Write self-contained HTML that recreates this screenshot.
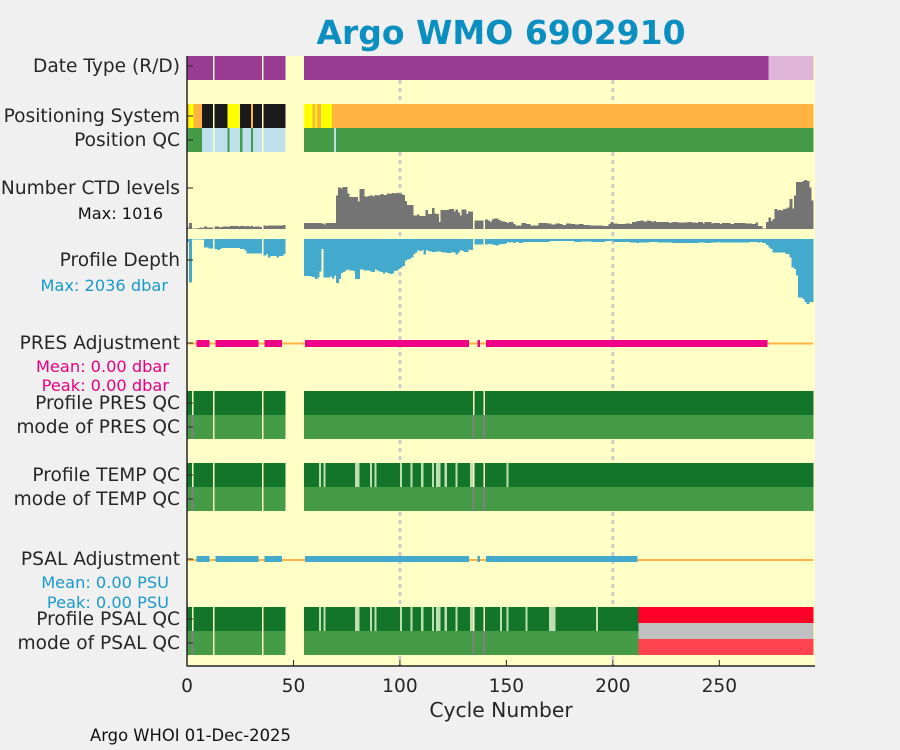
<!DOCTYPE html>
<html><head><meta charset="utf-8"><style>
body{margin:0;background:#f0f0f0;}
svg{display:block;font-family:"DejaVu Sans","Liberation Sans",sans-serif;}
#marks rect{shape-rendering:crispEdges;}
</style></head><body>
<svg id="chart" width="900" height="750" viewBox="0 0 900 750">
<rect x="0" y="0" width="900" height="750" fill="#f0f0f0"/>
<text x="501" y="44" text-anchor="middle" font-size="33" font-weight="bold" fill="#0b8ec0">Argo WMO 6902910</text>
<rect x="187" y="56" width="628" height="610" fill="#ffffc6"/>
<g id="grid"></g>
<g id="marks"></g>
<g id="axes"></g>
<g font-size="18.6" fill="#262626" text-anchor="end">
<text x="180" y="72">Date Type (R/D)</text>
<text x="180" y="122">Positioning System</text>
<text x="180" y="146">Position QC</text>
<text x="180" y="194">Number CTD levels</text>
<text x="163" y="219" font-size="16.2" fill="#111">Max: 1016</text>
<text x="168" y="291" font-size="16.2" fill="#1a9ac9">Max: 2036 dbar</text>
<text x="180" y="266">Profile Depth</text>
<text x="180" y="349">PRES Adjustment</text>
<text x="169" y="372" font-size="16.2" fill="#e6007e">Mean: 0.00 dbar</text>
<text x="169" y="391" font-size="16.2" fill="#e6007e">Peak: 0.00 dbar</text>
<text x="180" y="409">Profile PRES QC</text>
<text x="180" y="433">mode of PRES QC</text>
<text x="180" y="481">Profile TEMP QC</text>
<text x="180" y="505">mode of TEMP QC</text>
<text x="180" y="565">PSAL Adjustment</text>
<text x="169" y="588" font-size="16.2" fill="#1a9ac9">Mean: 0.00 PSU</text>
<text x="169" y="608" font-size="16.2" fill="#1a9ac9">Peak: 0.00 PSU</text>
<text x="180" y="625">Profile PSAL QC</text>
<text x="180" y="649">mode of PSAL QC</text>
</g>
<text x="501" y="717" text-anchor="middle" font-size="20.3" fill="#262626">Cycle Number</text>
<text x="90" y="741" font-size="16.4" fill="#111">Argo WHOI 01-Dec-2025</text>
</svg>
<script>
const NS='http://www.w3.org/2000/svg';
const nCycles=294;
const xTicks=[0,50,100,150,200,250];
const gridCycles=[100,200];
const missing=[12,35,46,47,48,49,50,51,52,53,54];
const grayModeCycles=[2,134,139];
const realtimeStart=273;
const ctdLevels=[35,125,10,10,10,20,35,20,50,30,35,35,null,
55,55,35,45,50,55,45,60,60,60,60,55,60,60,50,60,55,60,45,55,50,40,null,
70,65,70,70,70,70,70,70,70,85,null,null,null,null,null,null,null,null,null,
120,120,120,120,120,120,120,120,110,90,120,120,120,120,120,
690,860,840,870,870,740,660,660,660,660,570,830,830,670,670,680,690,670,700,690,700,725,700,700,740,730,750,740,750,740,
740,700,580,500,500,500,280,280,300,265,265,265,395,310,310,435,320,310,145,395,395,395,395,415,415,360,400,340,280,400,400,310,360,360,
null,180,180,180,180,null,200,180,150,200,220,220,190,170,160,140,
125,140,150,105,70,70,70,125,125,105,105,70,70,70,70,125,125,125,125,110,110,90,90,110,110,100,80,80,110,110,100,100,90,90,100,100,80,80,80,70,70,70,70,70,70,60,60,60,100,145,
110,110,100,100,100,100,110,110,100,140,150,170,170,180,160,160,180,170,150,170,140,140,140,140,150,150,120,130,140,140,130,130,130,130,130,140,140,130,130,125,150,150,110,140,140,140,110,125,125,125,
100,125,125,125,125,100,100,120,120,120,125,125,110,110,110,100,100,130,60,60,10,10,140,240,170,210,415,380,395,380,415,430,450,620,430,690,970,970,970,1000,1016,1000,860,590];
const profileDepth=[100,1360,20,20,20,20,20,20,260,270,290,290,null,
310,340,310,280,280,280,280,280,280,280,280,280,310,310,365,450,450,450,450,450,450,460,null,
520,470,575,540,540,540,575,540,540,470,null,null,null,null,null,null,null,null,null,
1160,1160,1160,1170,1190,1250,1200,1020,310,1200,1200,1200,1180,1230,1140,
1380,1250,1060,1030,980,960,990,990,1000,1250,1250,960,950,980,980,980,1020,1030,960,980,1020,1030,1080,1040,1060,1100,1080,1000,980,940,
900,840,680,640,620,580,470,420,350,380,350,480,350,370,390,410,400,390,390,400,430,430,440,440,400,420,480,420,350,370,400,410,330,340,
null,170,170,170,170,null,180,150,160,170,190,200,170,150,150,140,
100,110,100,130,100,100,120,110,100,100,90,90,90,90,90,100,100,100,100,100,70,70,70,70,70,70,70,70,70,70,70,70,90,90,90,80,80,80,80,80,90,90,90,90,90,90,70,70,70,50,
90,90,90,90,90,100,100,100,110,110,110,130,110,110,110,110,110,100,100,100,100,110,110,110,110,110,110,110,130,130,130,130,130,130,120,120,120,120,120,120,110,110,110,120,120,120,110,110,110,100,
110,110,110,110,110,110,110,110,110,110,110,110,110,110,100,100,100,100,110,100,120,125,190,260,310,420,420,420,420,420,420,470,470,575,890,940,1150,1830,1830,1880,1980,2036,1980,1980];
const ctdMax=1016, depthMax=2036;
const posSystemHead=["O","Y","Y","O","O","O","O","B","B","B","B","B","-","B","B","B","B","B","B","Y","Y","Y","Y","Y","Y","B","B","B","B","B","O","B","B","B","B","-","B","B","B","B","B","B","B","B","B","B","-","-","-","-","-","-","-","-","-","Y","Y","Y","Y","O","Y","O","O","Y","Y","Y","Y","Y"];
const posQCHead=["G","G","G","G","G","G","G","L","L","L","L","L","-","L","L","L","L","L","L","G","L","L","L","L","L","G","L","L","L","L","G","L","L","L","L","-","L","L","L","L","L","L","L","L","L","L","-","-","-","-","-","-","-","-","-","G","G","G","G","G","G","G","G","G","G","G","G","G","G","L"];
const tempPaleCycles=[62,64,79,80,86,88,100,105,110,115,117,118,121,126,133,150];
const psalPaleCycles=[62,64,79,80,86,88,100,105,110,115,117,118,121,126,133,147,150,159,170,171,172,192];
const psalBadStart=212;
const presAdjRuns=[[4,10],[13,33],[36,44],[55,132],[136,137],[140,272]];
const psalAdjRuns=[[4,10],[13,33],[36,44],[55,132],[136,137],[140,211]];

const X0=187,X1=813;
function xs(c){return X0+c*(X1-X0)/nCycles;}
function yCtd(v){return 229-v/ctdMax*49;}
function yDepth(v){return 239+v/depthMax*65;}
const marks=document.getElementById('marks');
const grid=document.getElementById('grid');
const axes=document.getElementById('axes');
function rect(parent,x,y,w,h,fill,name){
  const r=document.createElementNS(NS,'rect');
  r.setAttribute('x',x);r.setAttribute('y',y);r.setAttribute('width',Math.max(w,0));r.setAttribute('height',Math.max(h,0));r.setAttribute('fill',fill);
  
  
  parent.appendChild(r);return r;
}
function line(parent,x1,y1,x2,y2,stroke,w,name,dash){
  const l=document.createElementNS(NS,'line');
  l.setAttribute('x1',x1);l.setAttribute('y1',y1);l.setAttribute('x2',x2);l.setAttribute('y2',y2);
  l.setAttribute('stroke',stroke);l.setAttribute('stroke-width',w);
  if(dash)l.setAttribute('stroke-dasharray',dash);
  
  
  parent.appendChild(l);return l;
}
gridCycles.forEach(c=>{line(grid,xs(c),56,xs(c),666,'#cccccc',3,'grid-line-'+c,'4 4');});

const isMissing=c=>missing.includes(c);
for(let c=0;c<nCycles;c++){
  if(isMissing(c))continue;
  const x=xs(c),w=xs(c+1)-x+0.6;
  rect(marks,x,56,w,24,c>=realtimeStart?'#ddb6d9':'#993b93','date-type-cell');
  const ps=c<posSystemHead.length?posSystemHead[c]:'O';
  rect(marks,x,104,w,24,ps==='Y'?'#ffff00':ps==='B'?'#1a1a1a':'#ffb340','positioning-system-cell');
  const pq=c<posQCHead.length?posQCHead[c]:'G';
  rect(marks,x,128,w,24,pq==='L'?'#bee0ec':'#469b46','position-qc-cell');
  if(ctdLevels[c]!=null){const y=yCtd(ctdLevels[c]);rect(marks,x,y,w,229-y,'#747474','ctd-levels-bar');}
  if(profileDepth[c]!=null){const y=yDepth(profileDepth[c]);rect(marks,x,239,w,y-239,'#43aacd','profile-depth-bar');}
  const gm=grayModeCycles.includes(c);
  if(!gm)rect(marks,x,391,w,24,'#13752a','profile-pres-qc-cell');
  rect(marks,x,415,w,24,gm?'#808080':'#469b46','mode-pres-qc-cell');
  if(!gm)rect(marks,x,463,w,24,tempPaleCycles.includes(c)?'#bfdeb0':'#13752a','profile-temp-qc-cell');
  rect(marks,x,487,w,24,gm?'#808080':'#469b46','mode-temp-qc-cell');
  if(c>=psalBadStart){
    rect(marks,x,607,w,16,'#ff0028','profile-psal-qc-bad-cell');
    rect(marks,x,623,w,16,'#c0c0c0','psal-qc-gray-cell');
    rect(marks,x,639,w,16,'#ff4450','mode-psal-qc-bad-cell');
  }else{
    if(!gm)rect(marks,x,607,w,24,psalPaleCycles.includes(c)?'#bfdeb0':'#13752a','profile-psal-qc-cell');
    rect(marks,x,631,w,24,gm?'#808080':'#469b46','mode-psal-qc-cell');
  }
}
line(marks,187,343.5,813,343.5,'#ffb340',2,'pres-adjustment-baseline');
presAdjRuns.forEach(r=>rect(marks,xs(r[0])+1,340,xs(r[1]+1)-xs(r[0])-2,7,'#ee0088','pres-adjustment-bar'));
line(marks,187,560,813,560,'#ffb340',2,'psal-adjustment-baseline');
psalAdjRuns.forEach(r=>rect(marks,xs(r[0])+1,556,xs(r[1]+1)-xs(r[0])-2,6,'#43aacd','psal-adjustment-bar'));

line(axes,187,56,187,666.5,'#262626',1.5,'y-axis-line');
line(axes,187,666,815,666,'#262626',1.5,'x-axis-line');
[66,116,140,188,260,343,403,427,475,499,559,619,643].forEach(y=>line(axes,187,y,193,y,'#262626',1,'y-tick'));
xTicks.forEach(t=>{
  line(axes,xs(t),660,xs(t),666,'#262626',1,'x-tick');
  const tx=document.createElementNS(NS,'text');
  tx.setAttribute('x',xs(t));tx.setAttribute('y',692);tx.setAttribute('text-anchor','middle');
  tx.setAttribute('font-size','18.6');tx.setAttribute('fill','#262626');
  tx.textContent=t;
  
  
  axes.appendChild(tx);
});
</script>
</body></html>
